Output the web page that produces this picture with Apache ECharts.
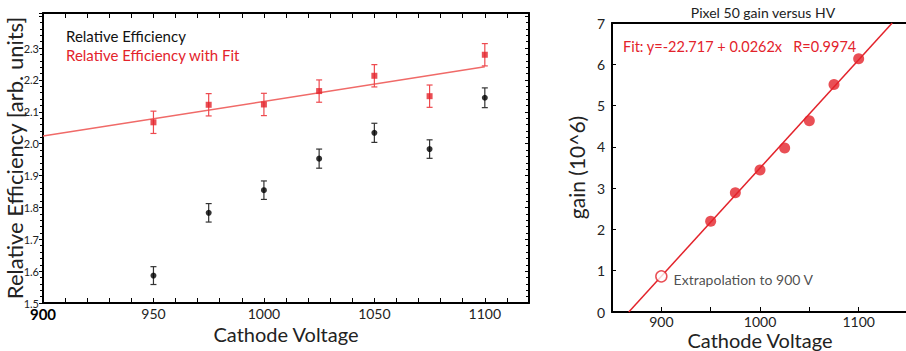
<!DOCTYPE html>
<html>
<head>
<meta charset="utf-8">
<script src="https://cdn.jsdelivr.net/npm/echarts@6/dist/echarts.min.js"></script>
<style>html,body{margin:0;padding:0;background:#fff}#c{width:906px;height:351px}</style>
</head>
<body>
<div id="c"></div>
<script>
// ---- Data ----
const voltages = [950, 975, 1000, 1025, 1050, 1075, 1100];
const relEff = [1.586, 1.783, 1.854, 1.953, 2.034, 1.983, 2.144];
const relEffErr = [0.028, 0.029, 0.029, 0.03, 0.03, 0.029, 0.031];
const relEffFit = [2.067, 2.122, 2.123, 2.165, 2.213, 2.149, 2.279];
const relEffFitErr = [0.035, 0.035, 0.035, 0.035, 0.035, 0.035, 0.035];
const leftFitLine = [[900, 2.024], [1100, 2.241]];

const gainVoltages = [950, 975, 1000, 1025, 1050, 1075, 1100];
const gainValues = [2.20, 2.89, 3.44, 3.97, 4.63, 5.51, 6.135];
const extrapPoint = [[900, 0.864]];
const gainFitLine = [[867, 0], [1134, 7]];

const leftXTicks = [900, 950, 1000, 1050, 1100];
const rightXTicks = [900, 1000, 1100];

const FONT = 'Lato';
const RED = '#e3232b';

function zip(xs, ys) { return xs.map((x, i) => [x, ys[i]]); }
function zip3(xs, ys, es) { return xs.map((x, i) => [x, ys[i], es[i]]); }

function errorBar(color) {
  return function (params, api) {
    const x = api.value(0), y = api.value(1), e = api.value(2);
    const t = api.coord([x, y + e]);
    const b = api.coord([x, y - e]);
    const w = 3;
    const st = { stroke: color, lineWidth: 1.2 };
    return {
      type: 'group',
      children: [
        { type: 'line', shape: { x1: t[0], y1: t[1], x2: b[0], y2: b[1] }, style: st },
        { type: 'line', shape: { x1: t[0] - w, y1: t[1], x2: t[0] + w, y2: t[1] }, style: st },
        { type: 'line', shape: { x1: b[0] - w, y1: b[1], x2: b[0] + w, y2: b[1] }, style: st }
      ]
    };
  };
}

const chart = echarts.init(document.getElementById('c'), null, { renderer: 'svg' });

const axisLineBlack = { show: true, lineStyle: { color: '#000', width: 2 } };

chart.setOption({
  animation: false,
  textStyle: { fontFamily: FONT },
  title: [
    { text: 'Pixel 50 gain versus HV', left: 758, top: 0, textAlign: 'center',
      textStyle: { fontFamily: FONT, fontSize: 14, fontWeight: 'normal', color: '#222' } },
    { text: 'Fit: y=-22.717 + 0.0262x   R=0.9974', left: 618, top: 34,
      textStyle: { fontFamily: FONT, fontSize: 14.5, fontWeight: 'normal', color: RED } }
  ],
  legend: {
    orient: 'vertical', left: 56, top: 23, itemGap: 4, itemWidth: 0, itemHeight: 0,
    selectedMode: false,
    textStyle: { fontFamily: FONT, fontSize: 15 },
    data: [
      { name: 'Relative Efficiency', icon: 'none', textStyle: { color: '#111' } },
      { name: 'Relative Efficiency with Fit', icon: 'none', textStyle: { color: RED } }
    ]
  },
  grid: [
    { left: 43, top: 13, width: 486, height: 290, outerBoundsMode: 'none' },
    { left: 612, top: 23, width: 296, height: 289, outerBoundsMode: 'none' }
  ],
  xAxis: [
    { type: 'value', gridIndex: 0, min: 900, max: 1120, interval: 50,
      axisLine: axisLineBlack,
      axisTick: { show: true, inside: true, length: 5, lineStyle: { color: '#000' } },
      minorTick: { show: true, splitNumber: 5, length: 5, lineStyle: { color: '#000' } },
      splitLine: { show: false },
      axisLabel: { fontSize: 14, color: '#222', margin: 3,
        formatter: v => leftXTicks.indexOf(v) < 0 ? '' : (v === 900 ? '{b|900}' : String(v)),
        rich: { b: { fontSize: 15, fontWeight: 'bold', color: '#000', fontFamily: FONT } } },
      name: 'Cathode Voltage', nameLocation: 'middle', nameGap: 21, nameMoveOverlap: false,
      nameTextStyle: { fontSize: 20, color: '#222', fontFamily: FONT } },
    { type: 'value', gridIndex: 0, min: 900, max: 1120, interval: 50, position: 'top',
      axisLine: axisLineBlack,
      axisTick: { show: true, inside: true, length: 5, lineStyle: { color: '#000' } },
      minorTick: { show: true, splitNumber: 5, length: 5, lineStyle: { color: '#000' } },
      splitLine: { show: false }, axisLabel: { show: false } },
    { type: 'value', gridIndex: 1, min: 850, max: 1150, interval: 50,
      axisLine: axisLineBlack,
      axisTick: { show: true, inside: true, length: 5, lineStyle: { color: '#000' } },
      splitLine: { show: false },
      axisLabel: { fontSize: 14, color: '#222', margin: 2,
        formatter: v => rightXTicks.indexOf(v) < 0 ? '' : String(v) },
      name: 'Cathode Voltage', nameLocation: 'middle', nameGap: 18, nameMoveOverlap: false,
      nameTextStyle: { fontSize: 20, color: '#222', fontFamily: FONT } },
    { type: 'value', gridIndex: 1, min: 850, max: 1150, position: 'top',
      axisLine: axisLineBlack, axisTick: { show: false }, splitLine: { show: false },
      axisLabel: { show: false } }
  ],
  yAxis: [
    { type: 'value', gridIndex: 0, min: 1.5, max: 2.41, interval: 0.1,
      axisLine: axisLineBlack,
      axisTick: { show: true, inside: false, length: 4, lineStyle: { color: '#000' } },
      minorTick: { show: true, splitNumber: 5, length: 3, lineStyle: { color: '#000' } },
      splitLine: { show: false },
      axisLabel: { fontSize: 11, color: '#222', margin: 4,
        formatter: v => (v > 2.35 ? '' : v.toFixed(1)) },
      name: 'Relative Efficiency [arb. units]', nameLocation: 'middle', nameGap: 18,
      nameMoveOverlap: false,
      nameTextStyle: { fontSize: 22, color: '#222', fontFamily: FONT } },
    { type: 'value', gridIndex: 0, min: 1.5, max: 2.41, interval: 0.1, position: 'right',
      axisLine: axisLineBlack,
      axisTick: { show: true, inside: true, length: 4, lineStyle: { color: '#000' } },
      minorTick: { show: true, splitNumber: 5, length: 3, lineStyle: { color: '#000' } },
      splitLine: { show: false }, axisLabel: { show: false } },
    { type: 'value', gridIndex: 1, min: 0, max: 7, interval: 1,
      axisLine: axisLineBlack,
      axisTick: { show: true, inside: true, length: 4, lineStyle: { color: '#000' } },
      splitLine: { show: false },
      axisLabel: { fontSize: 14, color: '#222', margin: 7 },
      name: 'gain (10^6)', nameLocation: 'middle', nameGap: 25, nameMoveOverlap: false,
      nameTextStyle: { fontSize: 21, color: '#222', fontFamily: FONT } }
  ],
  series: [
    { name: 'Relative Efficiency with Fit', type: 'line', xAxisIndex: 0, yAxisIndex: 0,
      data: leftFitLine, symbol: 'none', lineStyle: { color: '#f06a68', width: 1.5 },
      itemStyle: { color: RED }, z: 2 },
    { name: 'relEffErr', type: 'custom', xAxisIndex: 0, yAxisIndex: 0,
      data: zip3(voltages, relEff, relEffErr), renderItem: errorBar('#333'), z: 3 },
    { name: 'relEffFitErr', type: 'custom', xAxisIndex: 0, yAxisIndex: 0,
      data: zip3(voltages, relEffFit, relEffFitErr), renderItem: errorBar('#ee4a4f'), z: 3 },
    { name: 'Relative Efficiency', type: 'scatter', xAxisIndex: 0, yAxisIndex: 0,
      data: zip(voltages, relEff), symbol: 'circle', symbolSize: 6,
      itemStyle: { color: '#000' }, z: 4 },
    { name: 'Relative Efficiency with Fit', type: 'scatter', xAxisIndex: 0, yAxisIndex: 0,
      data: zip(voltages, relEffFit), symbol: 'rect', symbolSize: 6,
      itemStyle: { color: RED }, z: 4 },
    { name: 'gainFit', type: 'line', xAxisIndex: 2, yAxisIndex: 2,
      data: gainFitLine, symbol: 'none', lineStyle: { color: RED, width: 1.5 }, z: 2 },
    { name: 'gain', type: 'scatter', xAxisIndex: 2, yAxisIndex: 2,
      data: zip(gainVoltages, gainValues), symbol: 'circle', symbolSize: 11,
      itemStyle: { color: RED }, z: 4 },
    { name: 'extrap', type: 'scatter', xAxisIndex: 2, yAxisIndex: 2,
      data: extrapPoint, symbol: 'circle', symbolSize: 11,
      itemStyle: { color: '#fff', borderColor: RED, borderWidth: 1.5 },
      label: { show: true, position: 'right', distance: 6, formatter: 'Extrapolation to 900 V',
        fontSize: 14, color: '#222', fontFamily: FONT, offset: [0, 3] }, z: 4 }
  ]
});
</script>
</body>
</html>
